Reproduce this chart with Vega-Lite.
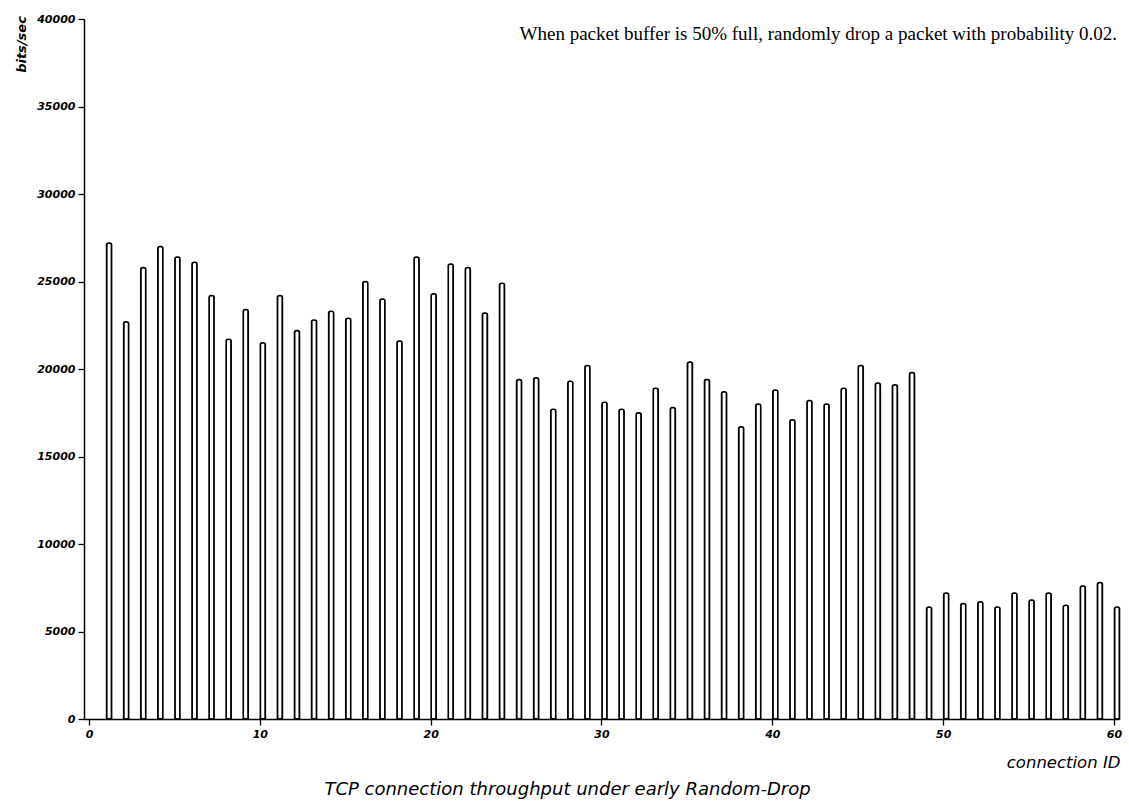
{
  "$schema": "https://vega.github.io/schema/vega-lite/v6.json",
  "autosize": {"type": "none"},
  "width": 1035,
  "height": 700,
  "padding": {"left": 84, "top": 19, "right": 10, "bottom": 87},
  "background": "white",
  "title": {
    "text": "TCP connection throughput under early Random-Drop",
    "orient": "bottom",
    "anchor": "middle",
    "dx": -34,
    "offset": 10,
    "font": "DejaVu Sans",
    "fontStyle": "italic",
    "fontWeight": "normal",
    "fontSize": 18,
    "color": "black"
  },
  "config": {
    "view": {"stroke": null},
    "axis": {
      "grid": false,
      "domainColor": "black",
      "domainWidth": 1.5,
      "tickColor": "black",
      "tickWidth": 1.3,
      "tickSize": 6,
      "labelFont": "DejaVu Sans",
      "labelFontStyle": "italic",
      "labelFontWeight": "bold",
      "labelFontSize": 11,
      "labelColor": "black",
      "titleFont": "DejaVu Sans",
      "titleFontStyle": "italic",
      "titleFontWeight": "normal",
      "titleColor": "black"
    }
  },
  "layer": [
    {
      "data": {"values": [
        {"id": 1, "bps": 27200}, {"id": 2, "bps": 22700}, {"id": 3, "bps": 25800}, {"id": 4, "bps": 27000},
        {"id": 5, "bps": 26400}, {"id": 6, "bps": 26100}, {"id": 7, "bps": 24200}, {"id": 8, "bps": 21700},
        {"id": 9, "bps": 23400}, {"id": 10, "bps": 21500}, {"id": 11, "bps": 24200}, {"id": 12, "bps": 22200},
        {"id": 13, "bps": 22800}, {"id": 14, "bps": 23300}, {"id": 15, "bps": 22900}, {"id": 16, "bps": 25000},
        {"id": 17, "bps": 24000}, {"id": 18, "bps": 21600}, {"id": 19, "bps": 26400}, {"id": 20, "bps": 24300},
        {"id": 21, "bps": 26000}, {"id": 22, "bps": 25800}, {"id": 23, "bps": 23200}, {"id": 24, "bps": 24900},
        {"id": 25, "bps": 19400}, {"id": 26, "bps": 19500}, {"id": 27, "bps": 17700}, {"id": 28, "bps": 19300},
        {"id": 29, "bps": 20200}, {"id": 30, "bps": 18100}, {"id": 31, "bps": 17700}, {"id": 32, "bps": 17500},
        {"id": 33, "bps": 18900}, {"id": 34, "bps": 17800}, {"id": 35, "bps": 20400}, {"id": 36, "bps": 19400},
        {"id": 37, "bps": 18700}, {"id": 38, "bps": 16700}, {"id": 39, "bps": 18000}, {"id": 40, "bps": 18800},
        {"id": 41, "bps": 17100}, {"id": 42, "bps": 18200}, {"id": 43, "bps": 18000}, {"id": 44, "bps": 18900},
        {"id": 45, "bps": 20200}, {"id": 46, "bps": 19200}, {"id": 47, "bps": 19100}, {"id": 48, "bps": 19800},
        {"id": 49, "bps": 6400}, {"id": 50, "bps": 7200}, {"id": 51, "bps": 6600}, {"id": 52, "bps": 6700},
        {"id": 53, "bps": 6400}, {"id": 54, "bps": 7200}, {"id": 55, "bps": 6800}, {"id": 56, "bps": 7200},
        {"id": 57, "bps": 6500}, {"id": 58, "bps": 7600}, {"id": 59, "bps": 7800}, {"id": 60, "bps": 6400}
      ]},
      "mark": {
        "type": "bar",
        "width": 5,
        "xOffset": 3,
        "fill": "white",
        "stroke": "black",
        "strokeWidth": 1.6,
        "cornerRadiusTopLeft": 2,
        "cornerRadiusTopRight": 2
      },
      "encoding": {
        "x": {
          "field": "id",
          "type": "quantitative",
          "scale": {"domain": [0, 60], "nice": false, "zero": false},
          "axis": {
            "values": [0, 10, 20, 30, 40, 50, 60],
            "title": "connection ID",
            "titleFontSize": 16.5,
            "titleAlign": "right",
            "titleAnchor": "end",
            "titleX": 1036,
            "titleY": 48,
            "titleBaseline": "alphabetic",
            "labelPadding": 3,
            "labelFlush": false
          }
        },
        "y": {
          "field": "bps",
          "type": "quantitative",
          "scale": {"domain": [0, 40000], "nice": false},
          "axis": {
            "values": [0, 5000, 10000, 15000, 20000, 25000, 30000, 35000, 40000],
            "format": "d",
            "title": "bits/sec",
            "titleFontSize": 13,
            "titleFontWeight": "bold",
            "titleAngle": -90,
            "titleAlign": "center",
            "titleBaseline": "middle",
            "titleX": -63,
            "titleY": 25,
            "labelPadding": 3
          }
        }
      }
    },
    {
      "data": {"values": [
        {"x": 60, "y": 38800, "note": "When packet buffer is 50% full, randomly drop a packet with probability 0.02."}
      ]},
      "mark": {
        "type": "text",
        "align": "right",
        "baseline": "alphabetic",
        "dx": 3,
        "font": "Liberation Serif",
        "fontSize": 19,
        "color": "black"
      },
      "encoding": {
        "x": {"field": "x", "type": "quantitative"},
        "y": {"field": "y", "type": "quantitative"},
        "text": {"field": "note"}
      }
    }
  ]
}
